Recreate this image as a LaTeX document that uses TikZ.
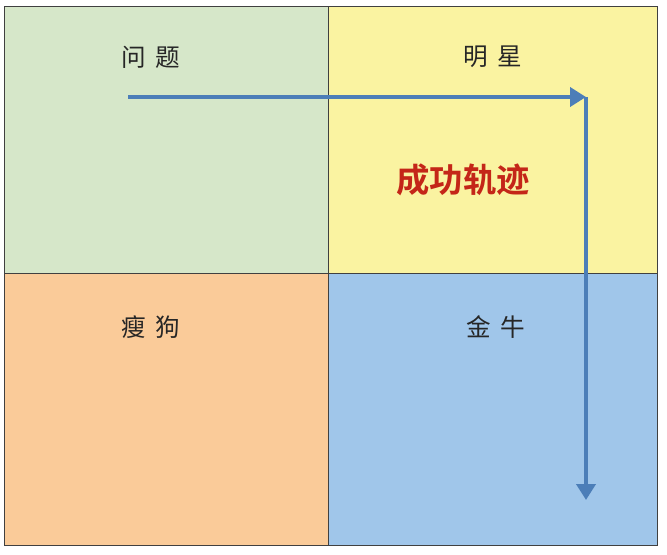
\documentclass[tikz,border=0pt]{standalone}
\usepackage{fontspec}
\setmainfont{Noto Sans CJK SC}
\newfontfamily\cjkbold{Noto Sans CJK SC Bold}
\usepackage{xcolor}
\usetikzlibrary{arrows.meta, positioning}

\definecolor{qgreen}{RGB}{214,231,201}
\definecolor{qyellow}{RGB}{250,243,161}
\definecolor{qorange}{RGB}{250,203,153}
\definecolor{qblue}{RGB}{160,198,234}
\definecolor{trackblue}{RGB}{76,126,184}
\definecolor{trackred}{RGB}{196,38,24}

\tikzset{quad/.style={draw=black!75, line width=0.6pt, anchor=north west, inner sep=0pt}}
\tikzset{lbl/.style={font=\fontsize{14}{16}\selectfont, text=black!85}}
\tikzset{track/.style={draw=trackblue, line width=2.2pt, -{Triangle[length=0.32cm, width=0.38cm]}}}

\begin{document}
\begin{tikzpicture}[x=0.02cm, y=-0.02cm]
                        \useasboundingbox (0, 0) rectangle (667, 555);
                        % four quadrants
                        \node[quad, fill=qgreen, minimum width=6.48cm, minimum height=5.34cm] (wenti) at (4, 6) {};
                        \node[quad, fill=qyellow, minimum width=6.58cm, minimum height=5.34cm] (mingxing) at (328, 6) {};
                        \node[quad, fill=qorange, minimum width=6.48cm, minimum height=5.44cm] (shougou) at (4, 273) {};
                        \node[quad, fill=qblue, minimum width=6.58cm, minimum height=5.44cm] (jinniu) at (328, 273) {};
                        % labels
                        \node[lbl] (wentitxt) at (151, 57) {问\hspace{0.4em}题};
                        \node[lbl] (mingxingtxt) at (493, 57) {明\hspace{0.4em}星};
                        \node[lbl] (shougoutxt) at (151, 327) {瘦\hspace{0.4em}狗};
                        \node[lbl] (jinniutxt) at (496, 327) {金\hspace{0.4em}牛};
                        \node[font=\cjkbold\fontsize{19}{21}\selectfont, text=trackred] (chenggong) at (463, 180) {成功轨迹};
                        % success track
                        \coordinate (start) at (128, 97);
                        \coordinate (corner) at (586, 97);
                        \coordinate (finish) at (586, 500);
                        \draw[track] (start) -- (corner);
                        \draw[track] (corner) -- (finish);
                    \end{tikzpicture}
\end{document}
